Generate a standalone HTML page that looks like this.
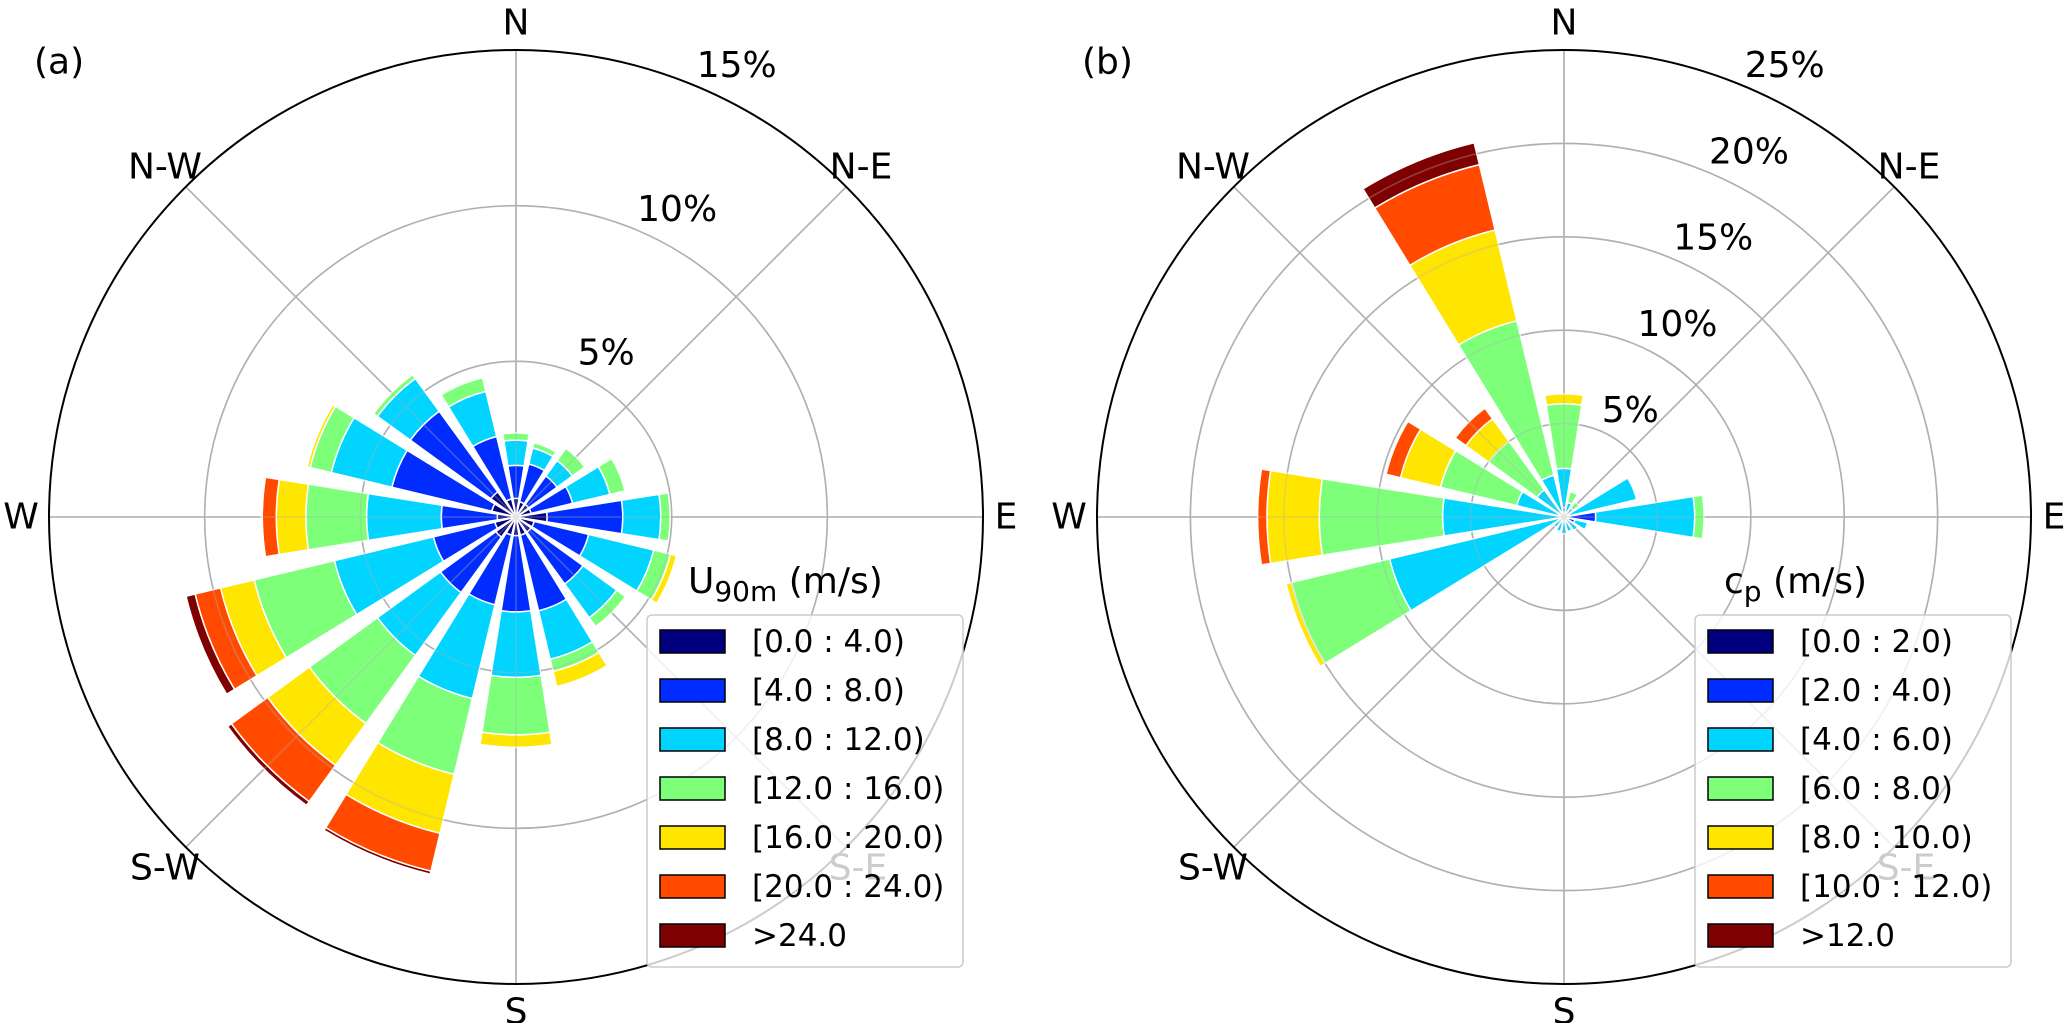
<!DOCTYPE html>
<html><head><meta charset="utf-8"><style>
html,body{margin:0;padding:0;background:#fff;}
svg{display:block;font-family:"DejaVu Sans","Liberation Sans",sans-serif;}
</style></head><body>
<svg id="chart" width="2067" height="1023" viewBox="0 0 2067 1023" xmlns="http://www.w3.org/2000/svg"></svg>
<script>
// Directions: N, NNE, NE, ENE, E, ESE, SE, SSE, S, SSW, SW, WSW, W, WNW, NW, NNW
const directions = ["N","NNE","NE","ENE","E","ESE","SE","SSE","S","SSW","SW","WSW","W","WNW","NW","NNW"];
const colors = ["#00007f","#002cff","#00d4ff","#7dff7a","#ffe600","#ff4a00","#7f0000"];
// Panel (a) U90m frequency (%) per speed bin
const binsA = ["[0.0 : 4.0)","[4.0 : 8.0)","[8.0 : 12.0)","[12.0 : 16.0)","[16.0 : 20.0)","[20.0 : 24.0)",">24.0"];
const a0 = [0.6,0.5,0.5,0.5,1.0,0.6,0.6,0.6,0.6,0.6,0.8,0.7,0.6,0.8,1.0,0.6];
const a1 = [1.06,1.25,1.13,1.37,2.43,1.8,2.06,2.5,2.45,2.3,2.2,2.03,1.8,3.3,3.2,2.06];
const a2 = [0.81,0.53,0.61,1.23,1.22,2.15,1.34,1.6,2.1,3.1,2.5,3.27,2.4,2.0,1.3,1.49];
const a3 = [0.23,0.17,0.49,0.5,0.3,0.55,0.35,0.4,1.85,2.5,2.7,2.65,1.95,0.7,0.15,0.45];
const a4 = [0,0,0,0,0,0.2,0,0.5,0.4,1.95,1.66,1.11,0.95,0.1,0,0];
const a5 = [0,0,0,0,0,0,0,0,0,1.25,1.44,0.84,0.45,0,0,0];
const a6 = [0,0,0,0,0,0,0,0,0,0.1,0.15,0.3,0.03,0,0,0];
// Panel (b) cp frequency (%) per speed bin
const binsB = ["[0.0 : 2.0)","[2.0 : 4.0)","[4.0 : 6.0)","[6.0 : 8.0)","[8.0 : 10.0)","[10.0 : 12.0)",">12.0"];
const b0 = [0.2,0.1,0.1,0.1,0.3,0.1,0.1,0.1,0.1,0.1,0.1,0.1,0.1,0.1,0.1,0.1];
const b1 = [0.3,0.1,0.1,0.2,1.4,0.5,0.2,0.1,0.1,0.1,0.1,0.2,0.2,0.2,0.2,0.2];
const b2 = [2.1,0.6,0.4,3.7,5.3,0.7,0.6,0.6,0.7,0.6,0.5,9.3,6.2,2.3,1.5,2.0];
const b3 = [3.46,0.6,0.4,0,0.5,0,0,0,0,0,0,5.4,6.6,4.2,3.2,8.5];
const b4 = [0.54,0,0,0,0,0,0,0,0,0,0,0.3,2.8,2.2,1.5,5.0];
const b5 = [0,0,0,0,0,0,0,0,0,0,0,0,0.5,0.8,0.7,3.6];
const b6 = [0,0,0,0,0,0,0,0,0,0,0,0,0,0,0,1.2];
const ticksA = [5,10,15];
const ticksB = [5,10,15,20,25];

const NS = "http://www.w3.org/2000/svg";
const svg = document.getElementById('chart');
function mk(tag, attrs, parent){ const e=document.createElementNS(NS,tag); for(const k in attrs) e.setAttribute(k,attrs[k]); (parent||svg).appendChild(e); return e; }

function drawPanel(cfg){
  const g = mk('g',{});
  
  
  const cx=cfg.cx, cy=cfg.cy, R=cfg.R, maxV=cfg.max;
  const rad = v => v/maxV*R;
  const pt = (r,deg) => { const t=deg*Math.PI/180; return [cx+r*Math.sin(t), cy-r*Math.cos(t)]; };
  function grid(op, parent){
    const gg = mk('g',{opacity:op}, parent);
    cfg.ticks.slice(0,-1).forEach(t=>{
      const c = mk('circle',{cx:cx,cy:cy,r:rad(t),fill:'none',stroke:'#b0b0b0','stroke-width':1.6},gg);
      
      
    });
    for(let k=0;k<8;k++){
      const p=pt(R,k*45);
      const l = mk('line',{x1:cx,y1:cy,x2:p[0],y2:p[1],stroke:'#b0b0b0','stroke-width':1.6},gg);
      
      
    }
  }
  grid(1,g);
  const half = 22.5*0.8/2;
  directions.forEach((d,i)=>{
    let cum=0;
    cfg.series.forEach((s,j)=>{
      const v=s[i]; if(v<=0) return;
      const r0=rad(cum), r1=rad(cum+v); cum+=v;
      const a=i*22.5-half, b=i*22.5+half;
      const p1=pt(r0,a), p2=pt(r1,a), p3=pt(r1,b), p4=pt(r0,b);
      const dpath=`M${p1[0]},${p1[1]} L${p2[0]},${p2[1]} A${r1},${r1} 0 0 1 ${p3[0]},${p3[1]} L${p4[0]},${p4[1]} A${r0},${r0} 0 0 0 ${p1[0]},${p1[1]} Z`;
      const seg = mk('path',{d:dpath,fill:colors[j],stroke:'#fff','stroke-width':1.5},g);
      
      
    });
  });
  grid(0.35,g);
  const oc = mk('circle',{cx:cx,cy:cy,r:R,fill:'none',stroke:'#000','stroke-width':2},g);
  
  
  cfg.ticks.forEach(t=>{
    const r=rad(t);
    const tx = mk('text',{x:cx+r*Math.sin(Math.PI/8)+2,y:cy-r*Math.cos(Math.PI/8)-20,'font-size':36,'dominant-baseline':'central',fill:'#000'},g);
    tx.textContent=t+'%';
    
    
  });
  const comp=[["N",0,-494],["S",0,495],["W",-495,0],["E",490,0],["N-W",-351,-350],["N-E",345,-350],["S-W",-351,351],["S-E",342,351]];
  comp.forEach(c=>{
    const tx=mk('text',{x:cx+c[1],y:cy+c[2],'font-size':36,'text-anchor':'middle','dominant-baseline':'central',fill:'#000'},g);
    tx.textContent=c[0];
    
    
  });
  const pl=mk('text',{x:cx-482,y:cy-455,'font-size':36,'dominant-baseline':'central'},g);
  pl.textContent=cfg.panel;
  
  
  const lg=mk('g',{},g);
  
  
  const lx=cx+131, ly=615;
  const box=mk('rect',{x:lx,y:ly,width:316,height:352,rx:5,fill:'#fff','fill-opacity':0.8,stroke:'#cccccc','stroke-width':1.5},lg);
  
  
  const tt=mk('text',{x:cx+cfg.titleDx,y:593,'font-size':36},lg);
  tt.innerHTML=cfg.title;
  
  
  cfg.bins.forEach((b,j)=>{
    const y=630+j*49;
    const p=mk('rect',{x:lx+13,y:y,width:65,height:23,fill:colors[j],stroke:'#000','stroke-width':1.5},lg);
    
    
    const t=mk('text',{x:lx+105,y:y+12,'font-size':31,'dominant-baseline':'central'},lg);
    t.textContent=b;
    
    
  });
}
drawPanel({name:'wind-rose-a',panel:'(a)',cx:516,cy:517,R:467,max:15,ticks:ticksA,bins:binsA,series:[a0,a1,a2,a3,a4,a5,a6],
  title:'U<tspan font-size="28" dy="8">90m</tspan><tspan dy="-8"> (m/s)</tspan>',titleDx:172});
drawPanel({name:'wind-rose-b',panel:'(b)',cx:1564,cy:517,R:467,max:25,ticks:ticksB,bins:binsB,series:[b0,b1,b2,b3,b4,b5,b6],
  title:'c<tspan font-size="28" dy="8">p</tspan><tspan dy="-8"> (m/s)</tspan>',titleDx:160});
</script>
</body></html>
